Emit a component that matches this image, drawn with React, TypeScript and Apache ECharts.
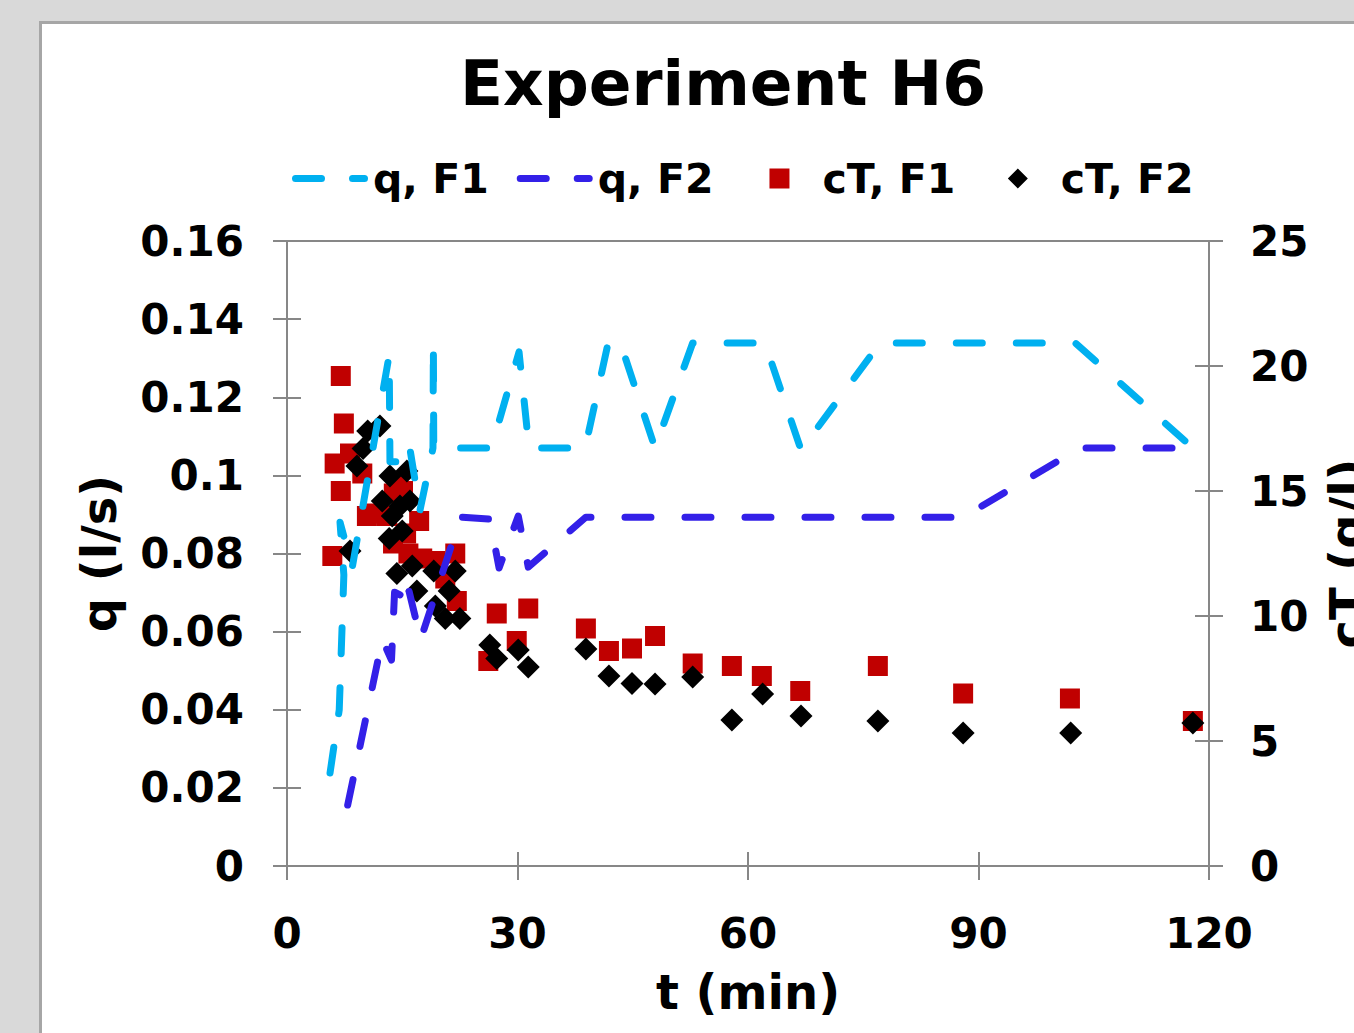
import React, { useEffect, useRef } from "react";
import * as echarts from "echarts";

// ---- data ----
const qF1Time = [5.6, 6.8, 7.4, 6.9, 8.5, 10.4, 13.3, 13.4, 15.1, 15.9, 17.3, 19.0, 19.05, 19.1, 26.6, 30.2, 31.5, 38.8, 41.8, 43.4, 47.9, 52.8, 62.2, 66.9, 77.2, 102.6, 117.9, 119.3];
const qF1Value = [0.0238, 0.040, 0.0745, 0.088, 0.0765, 0.098, 0.1308, 0.1035, 0.1035, 0.108, 0.091, 0.107, 0.1339, 0.107, 0.107, 0.1316, 0.107, 0.107, 0.1339, 0.1339, 0.107, 0.1339, 0.1339, 0.1065, 0.1339, 0.1339, 0.107, 0.109];

const qF2Time = [7.9, 12.4, 13.6, 14.0, 15.1, 15.5, 17.4, 22.6, 26.4, 27.6, 30.1, 31.4, 38.9, 88.0, 103.2, 117.9];
const qF2Value = [0.0156, 0.058, 0.0527, 0.0701, 0.069, 0.0735, 0.058, 0.0893, 0.0888, 0.0763, 0.0896, 0.0765, 0.0893, 0.0893, 0.107, 0.107];

const cF1Time = [5.9, 6.2, 7.0, 7.4, 7.0, 8.2, 9.8, 10.4, 11.6, 13.0, 13.8, 13.9, 14.5, 15.1, 15.5, 15.8, 17.2, 17.6, 19.3, 20.6, 21.9, 22.1, 26.2, 27.3, 29.9, 31.4, 38.9, 41.9, 44.9, 47.9, 52.8, 57.9, 61.8, 66.8, 76.9, 88.0, 101.9, 117.9];
const cF1Value = [12.4, 16.1, 19.6, 17.7, 15.0, 16.5, 15.7, 14.0, 14.1, 14.0, 12.9, 14.9, 15.3, 15.0, 13.3, 12.5, 13.8, 12.3, 12.2, 11.5, 12.5, 10.6, 8.2, 10.1, 9.0, 10.3, 9.5, 8.6, 8.7, 9.2, 8.1, 8.0, 7.6, 7.0, 8.0, 6.9, 6.7, 5.8];

const cF2Time = [8.2, 9.1, 9.9, 10.5, 12.1, 13.4, 15.6, 12.4, 16.0, 13.7, 14.7, 13.3, 15.0, 14.3, 16.3, 16.9, 19.1, 21.9, 19.3, 21.1, 20.6, 22.5, 26.4, 27.3, 30.1, 31.4, 38.9, 41.9, 44.9, 47.9, 52.8, 57.9, 61.9, 66.9, 76.9, 88.0, 102.0, 117.9];
const cF2Value = [12.6, 16.0, 16.7, 17.4, 17.6, 15.6, 15.8, 14.6, 14.6, 14.0, 14.4, 13.1, 13.4, 11.7, 12.0, 11.0, 11.8, 11.8, 10.4, 11.0, 9.9, 9.9, 8.84, 8.3, 8.64, 7.96, 8.68, 7.6, 7.3, 7.28, 7.56, 5.84, 6.88, 6.0, 5.8, 5.32, 5.32, 5.72];

const xTicks = { min: 0, max: 120, interval: 30 };
const qTicks = { min: 0, max: 0.16, interval: 0.02 };
const cTicks = { min: 0, max: 25, interval: 5 };

const seriesNames = ["q, F1", "q, F2", "cT, F1", "cT, F2"];
const seriesColors = ["#00b0f0", "#3320e8", "#c00000", "#000000"];
const titleText = "Experiment H6";

const pairs = (xs: number[], ys: number[]) => xs.map((x, i) => [x, ys[i]]);

const FONT = "DejaVu Sans";
const AXIS_COLOR = "#878787";

// legend icons, each spanning the full 76x20 icon box (degenerate end points set the box)
const ICON_DASH =
  "path://M0,6.5L0.01,6.5ZM3.5,3H29.5A3.5,3.5,0,0,1,29.5,10H3.5A3.5,3.5,0,0,1,3.5,3ZM60.5,3H72.5A3.5,3.5,0,0,1,72.5,10H60.5A3.5,3.5,0,0,1,60.5,3ZM76,6.5L75.99,6.5Z";
const ICON_SQUARE = "path://M0,10L0.01,10ZM28,0H48V20H28ZM76,10L75.99,10Z";
const ICON_DIAMOND = "path://M0,10L0.01,10ZM38,-1L49,10L38,21L27,10ZM76,10L75.99,10Z";
const legendIcons = [ICON_DASH, ICON_DASH, ICON_SQUARE, ICON_DIAMOND];

export default function App() {
  const ref = useRef<HTMLDivElement>(null);

  useEffect(() => {
    document.body.style.margin = "0";
    if (!ref.current) return;
    const chart = echarts.init(ref.current, undefined, { renderer: "svg" });
    const labelStyle = { fontSize: 42, fontWeight: "bold" as const, color: "#000", fontFamily: FONT };
    const legendText = { fontSize: 41, fontWeight: "bold" as const, color: "#000", fontFamily: FONT };
    const nameStyle = { fontSize: 48, fontWeight: "bold" as const, color: "#000", fontFamily: FONT };
    const grid = { left: 287, right: 145, top: 241, bottom: 167, outerBoundsMode: "none" };
    const tickStyle = { color: AXIS_COLOR, width: 2 };
    chart.setOption({
      animation: false,
      backgroundColor: "transparent",
      title: {
        text: titleText,
        left: 723,
        top: 52,
        padding: 0,
        textAlign: "center",
        textStyle: { fontSize: 63, fontWeight: "bold", color: "#000", fontFamily: FONT },
      },
      legend: {
        left: 292,
        top: 158,
        padding: 0,
        itemWidth: 76,
        itemHeight: 20,
        itemGap: 28,
        symbolKeepAspect: true,
        textStyle: legendText,
        data: seriesNames.map((name, i) => ({
          name,
          icon: legendIcons[i],
          itemStyle: { color: seriesColors[i], borderWidth: 0 },
        })),
      },
      grid: [
        { ...grid, show: true, borderColor: AXIS_COLOR, borderWidth: 2, backgroundColor: "#fff" },
        { ...grid, show: false },
      ],
      xAxis: [
        {
          type: "value",
          gridIndex: 0,
          ...xTicks,
          position: "bottom",
          axisLine: { show: true, lineStyle: tickStyle },
          axisTick: { show: true, length: 14, lineStyle: tickStyle },
          axisLabel: { ...labelStyle, margin: 46 },
          splitLine: { show: false },
          name: "t (min)",
          nameLocation: "middle",
          nameGap: 102,
          nameTextStyle: nameStyle,
        },
        {
          type: "value",
          gridIndex: 1,
          ...xTicks,
          position: "bottom",
          axisLine: { show: false },
          axisTick: { show: true, inside: true, length: 14, lineStyle: tickStyle },
          axisLabel: { show: false },
          splitLine: { show: false },
        },
      ],
      yAxis: [
        {
          type: "value",
          gridIndex: 0,
          ...qTicks,
          position: "left",
          axisLine: { show: true, lineStyle: tickStyle },
          axisTick: { show: true, length: 14, lineStyle: tickStyle },
          axisLabel: { ...labelStyle, margin: 43 },
          splitLine: { show: false },
          name: "q (l/s)",
          nameLocation: "middle",
          nameGap: 164,
          nameRotate: 90,
          nameTextStyle: nameStyle,
        },
        {
          type: "value",
          gridIndex: 0,
          ...cTicks,
          position: "right",
          axisLine: { show: true, lineStyle: tickStyle },
          axisTick: { show: true, length: 14, lineStyle: tickStyle },
          axisLabel: { ...labelStyle, margin: 41 },
          splitLine: { show: false },
          name: "cT (g/l)",
          nameLocation: "middle",
          nameGap: 114,
          nameRotate: 90,
          nameTextStyle: nameStyle,
        },
        {
          type: "value",
          gridIndex: 1,
          ...qTicks,
          position: "left",
          axisLine: { show: false },
          axisTick: { show: true, inside: true, length: 14, lineStyle: tickStyle },
          axisLabel: { show: false },
          splitLine: { show: false },
        },
        {
          type: "value",
          gridIndex: 1,
          ...cTicks,
          position: "right",
          axisLine: { show: false },
          axisTick: { show: true, inside: true, length: 14, lineStyle: tickStyle },
          axisLabel: { show: false },
          splitLine: { show: false },
        },
      ],
      series: [
        {
          name: seriesNames[0],
          type: "line",
          xAxisIndex: 0,
          yAxisIndex: 0,
          symbol: "none",
          data: pairs(qF1Time, qF1Value),
          itemStyle: { color: seriesColors[0] },
          lineStyle: { color: seriesColors[0], width: 7, type: [26, 34], cap: "round", join: "round" },
        },
        {
          name: seriesNames[1],
          type: "line",
          xAxisIndex: 0,
          yAxisIndex: 0,
          symbol: "none",
          data: pairs(qF2Time, qF2Value),
          itemStyle: { color: seriesColors[1] },
          lineStyle: { color: seriesColors[1], width: 7, type: [26, 34], cap: "round", join: "round" },
        },
        {
          name: seriesNames[2],
          type: "scatter",
          xAxisIndex: 0,
          yAxisIndex: 1,
          symbol: "rect",
          symbolSize: 20,
          data: pairs(cF1Time, cF1Value),
          itemStyle: { color: seriesColors[2], opacity: 1 },
        },
        {
          name: seriesNames[3],
          type: "scatter",
          xAxisIndex: 0,
          yAxisIndex: 1,
          symbol: "diamond",
          symbolSize: 23,
          data: pairs(cF2Time, cF2Value),
          itemStyle: { color: seriesColors[3], opacity: 1 },
        },
      ],
    });
    return () => chart.dispose();
  }, []);

  return (
    <div style={{ position: "relative", width: 1354, height: 1033, overflow: "hidden", background: "#d9d9d9" }}>
      <div
        style={{
          position: "absolute",
          left: 39,
          top: 21,
          width: 1400,
          height: 1100,
          background: "#fff",
          border: "3px solid #a6a6a6",
          boxSizing: "border-box",
        }}
      />
      <div ref={ref} style={{ position: "absolute", left: 0, top: 0, width: 1354, height: 1033 }} />
    </div>
  );
}
